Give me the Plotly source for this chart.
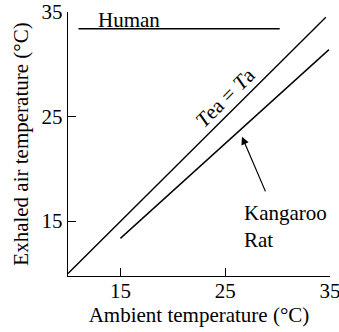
import plotly.graph_objects as go

# Data
human_x = [11.0, 30.2]
human_y = [33.4, 33.4]
equal_x = [10.0, 34.6]
equal_y = [10.0, 34.5]
rat_x = [15.0, 34.9]
rat_y = [13.35, 31.4]
tick_vals = [15, 25, 35]
tick_text = ["15", "25", "35"]

FONT = "Liberation Serif, Times New Roman, serif"
SZ = 21
f = dict(family=FONT, size=SZ, color="black")
line_style = dict(color="black", width=1.4)

fig = go.Figure()
for xs, ys in [(human_x, human_y), (equal_x, equal_y), (rat_x, rat_y)]:
    fig.add_trace(go.Scatter(x=xs, y=ys, mode="lines", line=line_style,
                             showlegend=False, hoverinfo="skip"))

fig.add_annotation(x=15.8, y=34.2, text="Human", showarrow=False,
                   xanchor="center", yanchor="middle", font=f)
fig.add_annotation(x=24.95, y=26.8, text="<i>T</i>ea = <i>T</i>a", showarrow=False,
                   textangle=-45, xanchor="center", yanchor="middle", font=f)
fig.add_annotation(x=26.6, y=23.07, ax=28.9, ay=17.7, axref="x", ayref="y",
                   xref="x", yref="y", text="", showarrow=True,
                   arrowhead=2, arrowsize=1.3, arrowwidth=1.2, arrowcolor="black")
fig.add_annotation(x=26.6, y=17.1, text="Kangaroo<br>Rat", showarrow=False,
                   xanchor="left", yanchor="top", align="left", font=f)

axis_common = dict(showgrid=False, zeroline=False, showline=True, linecolor="black",
                   linewidth=1.4, ticks="inside", ticklen=8, tickwidth=1.4,
                   tickcolor="black", tickvals=tick_vals, ticktext=tick_text,
                   tickfont=f, mirror=False, ticklabeloverflow="allow",
                   automargin=False)

fig.update_layout(
    width=339, height=332,
    margin=dict(l=68, r=9, t=12, b=56),
    paper_bgcolor="white", plot_bgcolor="white",
    font=f,
    xaxis=dict(range=[10, 35], title=dict(text="Ambient temperature (°C)",
               font=f, standoff=0), ticklabelstandoff=-4, **axis_common),
    yaxis=dict(range=[9.75, 35], title=dict(text="Exhaled air temperature (°C)",
               font=f, standoff=7), **axis_common),
)

fig.write_html("out.html")
